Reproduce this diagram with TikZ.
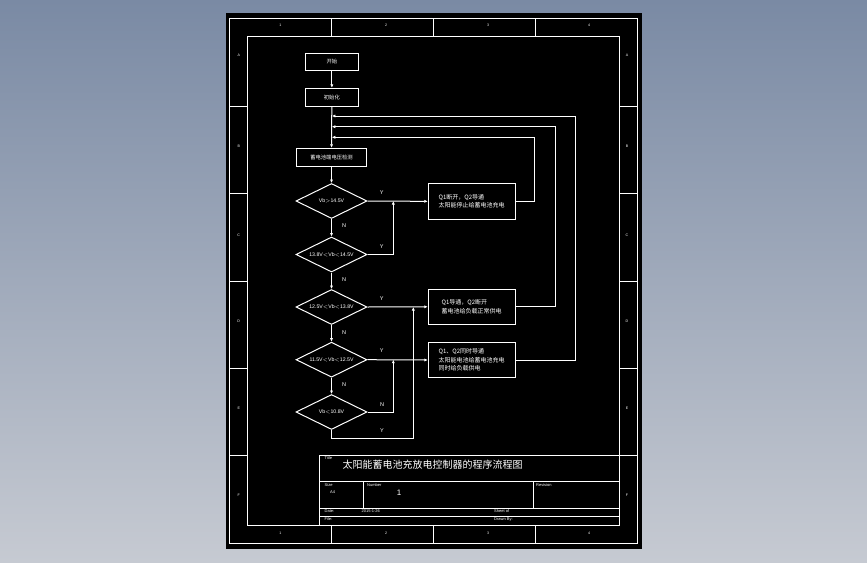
\documentclass[tikz,border=0pt]{standalone}
\usepackage{fontspec}
\setmainfont{Liberation Sans}
\newfontfamily\cjk{Noto Sans CJK SC}
\usetikzlibrary{arrows.meta,shapes.geometric}
\begin{document}
\begin{tikzpicture}[x=1pt,y=-1pt,
  ln/.style={white, line width=1pt},
  arr/.style={ln, -{Latex[length=3.5pt,width=3.2pt]}},
  fbox/.style={draw=white, line width=1pt, fill=black, text=white, inner sep=0pt, font=\cjk\fontsize{5.3}{6}\selectfont},
  rbox/.style={draw=white, line width=1pt, fill=black, text=white, inner sep=0pt, align=left, minimum width=86.7pt, font=\cjk\fontsize{6}{8.6}\selectfont},
  dia/.style={diamond, aspect=2, draw=white, line width=1pt, inner sep=0pt, text=white, minimum width=71pt, minimum height=35pt, font=\fontsize{5.2}{6}\selectfont},
  lab/.style={text=white, inner sep=0pt, font=\fontsize{5.5}{6}\selectfont},
  tiny/.style={text=white, inner sep=0pt, anchor=west, font=\fontsize{4}{4}\selectfont},
  zone/.style={text=white, inner sep=0pt, font=\fontsize{3.6}{4}\selectfont}]
\useasboundingbox (0,0) rectangle (867,562);
\shade[top color={rgb,255:red,122;green,138;blue,164}, bottom color={rgb,255:red,198;green,202;blue,210}] (0,0) rectangle (867,562);
\fill[black] (226,13) rectangle (641.5,549);
% borders
\draw[ln] (229.5,18.3) rectangle (637.7,543.3);
\draw[ln] (247.3,36.3) rectangle (619.3,525);
\foreach \x in {331.3,433.3,535.3} {
  \draw[ln] (\x,18.3) -- (\x,36.3);
  \draw[ln] (\x,525) -- (\x,543.3);
}
\foreach \y in {106.3,193.3,281,368.3,455.3} {
  \draw[ln] (229.5,\y) -- (247.3,\y);
  \draw[ln] (619.3,\y) -- (637.7,\y);
}
\foreach \x/\t in {280.3/1,386/2,488/3,589/4} {
  \node[zone] (zt\t) at (\x,25.3) {\t};
  \node[zone] (zb\t) at (\x,533.5) {\t};
}
\foreach \y/\t in {55/A,146/B,235.7/C,321.7/D,408.3/E,495/F} {
  \node[zone] (zl\t) at (238.7,\y) {\t};
  \node[zone] (zr\t) at (627,\y) {\t};
}
% title block
\draw[ln] (319.3,525) -- (319.3,455.3) -- (619.3,455.3);
\draw[ln] (319.3,481.7) -- (619.3,481.7);
\draw[ln] (319.3,508.3) -- (619.3,508.3);
\draw[ln] (319.3,516) -- (619.3,516);
\draw[ln] (363.3,481.7) -- (363.3,508.3);
\draw[ln] (533.3,481.7) -- (533.3,508.3);
\node[tiny] (tTitle) at (324.5,458.5) {Title};
\node[text=white, inner sep=0pt, anchor=west, font=\cjk\fontsize{10}{10}\selectfont] (tMain) at (342.5,465) {太阳能蓄电池充放电控制器的程序流程图};
\node[tiny] (tSize) at (324.5,485) {Size};
\node[tiny] (tA4) at (330,492.5) {A4};
\node[tiny] (tNum) at (367,485) {Number};
\node[text=white, inner sep=0pt, font=\fontsize{8}{8}\selectfont] (tOne) at (399,493) {1};
\node[tiny] (tRev) at (536,485) {Revision};
\node[tiny] (tDate) at (324.5,511.3) {Date:};
\node[tiny] (tDateV) at (361.5,511.3) {2015-1-26};
\node[tiny] (tSheet) at (494,511.3) {Sheet of};
\node[tiny] (tFile) at (324.5,519.5) {File:};
\node[tiny] (tDrawn) at (494,519.5) {Drawn By:};
% flowchart nodes
\node[fbox, minimum width=53.7pt, minimum height=17pt] (start) at (331.85,61.8) {开始};
\node[fbox, minimum width=53.7pt, minimum height=18pt] (init) at (331.85,97.3) {初始化};
\node[fbox, minimum width=70.4pt, minimum height=18pt] (detect) at (331.5,157.3) {蓄电池端电压检测};
\node[dia] (d1) at (331.5,201) {Vb$>$14.5V};
\node[dia] (d2) at (331.5,254.5) {13.8V$<$Vb$<$14.5V};
\node[dia] (d3) at (331.5,307) {12.5V$<$Vb$<$13.8V};
\node[dia] (d4) at (331.5,359.7) {11.5V$<$Vb$<$12.5V};
\node[dia] (d5) at (331.5,412) {Vb$<$10.8V};
\node[rbox, minimum height=35.3pt] (b1) at (471.65,201.35) {Q1断开，Q2导通\\太阳能停止给蓄电池充电};
\node[rbox, minimum height=35pt] (b2) at (471.65,306.8) {Q1导通，Q2断开\\蓄电池给负载正常供电};
\node[rbox, minimum height=34.6pt] (b3) at (471.65,360) {Q1、Q2同时导通\\太阳能电池给蓄电池充电\\同时给负载供电};
% junction coordinates
\coordinate (f1) at (331.85,137.3);
\coordinate (f2) at (331.85,126.7);
\coordinate (f3) at (331.85,116);
\coordinate (j1) at (393.3,201);
\coordinate (j4) at (393.3,359.7);
\coordinate (j3) at (413.3,307);
\coordinate (c1) at (534.3,137.3);
\coordinate (c2) at (555,126.7);
\coordinate (c3) at (575.7,116);
\coordinate (bot) at (331.5,438);
% connectors
\draw[arr] (start) -- (init);
\draw[arr] (init) -- (detect);
\draw[arr] (detect) -- (d1);
\draw[arr] (d1) -- (d2);
\draw[arr] (d2) -- (d3);
\draw[arr] (d3) -- (d4);
\draw[arr] (d4) -- (d5);
\draw[arr] (d1.east) -- (b1.west);
\draw[arr] (d3.east) -- (b2.west);
\draw[arr] (d4.east) -- (b3.west);
\draw[arr] (d2.east) -| (j1);
\draw[arr] (d5.east) -| (j4);
\draw[arr] (d5.south) -- (bot) -| (j3);
\draw[arr] (b1.east) -| (c1) -- (f1);
\draw[arr] (b2.east) -| (c2) -- (f2);
\draw[arr] (b3.east) -| (c3) -- (f3);
% labels
\node[lab] (y1) at (381.7,192.3) {Y};
\node[lab] (y2) at (381.7,247) {Y};
\node[lab] (y3) at (381.7,299) {Y};
\node[lab] (y4) at (381.7,351) {Y};
\node[lab] (n5) at (382,405) {N};
\node[lab] (y5) at (382,431) {Y};
\node[lab] (n1) at (344,226) {N};
\node[lab] (n2) at (344,280) {N};
\node[lab] (n3) at (344,333) {N};
\node[lab] (n4) at (344,385) {N};
\end{tikzpicture}
\end{document}
